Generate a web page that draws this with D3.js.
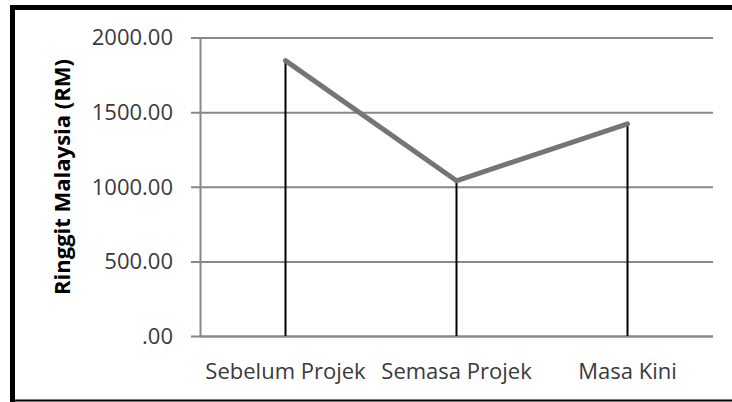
<!DOCTYPE html>
<html>
<head>
<meta charset="utf-8">
<script src="https://cdn.jsdelivr.net/npm/d3@7"></script>
<style>
  body { margin: 0; background: #fff; }
  svg { display: block; }
</style>
</head>
<body>
<svg></svg>
<script>
var width = 732;
var height = 402;

// data
const categories = ["Sebelum Projek", "Semasa Projek", "Masa Kini"];
const values = [1845, 1040, 1422];
const yTicks = [0, 500, 1000, 1500, 2000];
const yTitle = "Ringgit Malaysia (RM)";

var svg = d3.select("svg").attr("width", width).attr("height", height);

// plot box
const plotL = 200, plotR = 713, plotT = 37.5, plotB = 336;

// outer frame (thick top/left, thin bottom)
svg.append("line").attr("x1", 10).attr("x2", width).attr("y1", 7.5).attr("y2", 7.5)
    .attr("stroke", "#000").attr("stroke-width", 5);
svg.append("line").attr("x1", 12.5).attr("x2", 12.5).attr("y1", 5).attr("y2", height)
    .attr("stroke", "#000").attr("stroke-width", 5);
svg.append("line").attr("x1", 10).attr("x2", width).attr("y1", 400.5).attr("y2", 400.5)
    .attr("stroke", "#000").attr("stroke-width", 2);

let xScale = d3.scaleBand().domain(categories).range([plotL, plotR]);
let yScale = d3.scaleLinear().domain([0, 2000]).range([plotB, plotT]);

// gridlines + y axis
let y_Axis = d3.axisLeft(yScale).tickValues(yTicks)
    .tickSize(-(plotR - plotL))
    .tickFormat((d) => d === 0 ? ".00" : d3.format(".2f")(d));

let gy = svg.append("g").attr("transform", "translate(" + plotL + ",0)").call(y_Axis);
gy.select(".domain").attr("stroke", "#888").attr("stroke-width", 2);
gy.selectAll(".tick line").attr("stroke", "#888").attr("stroke-width", 2)
    .attr("x1", -9);
gy.selectAll(".tick text")
    .style("font-family", "'Open Sans', sans-serif")
    .style("font-size", "22px")
    .attr("fill", "#3a3a3a")
    .attr("x", -27)
    .attr("dy", "0.34em");

// category labels
let x_Axis = d3.axisBottom(xScale).tickSize(0).tickPadding(0);
let gx = svg.append("g").attr("transform", "translate(0," + plotB + ")").call(x_Axis);
gx.select(".domain").remove();
gx.selectAll(".tick text")
    .style("font-family", "'Open Sans', sans-serif")
    .style("font-size", "22px")
    .attr("fill", "#3a3a3a")
    .attr("y", 43)
    .attr("dy", 0);

// drop lines
svg.selectAll(".drop").data(values).enter()
    .append("line")
    .attr("class", "drop")
    .attr("x1", (d, i) => xScale(categories[i]) + xScale.bandwidth() / 2)
    .attr("x2", (d, i) => xScale(categories[i]) + xScale.bandwidth() / 2)
    .attr("y1", (d) => yScale(d))
    .attr("y2", plotB)
    .attr("stroke", "#000")
    .attr("stroke-width", 2);

// the line
let line = d3.line()
    .x((d, i) => xScale(categories[i]) + xScale.bandwidth() / 2)
    .y((d) => yScale(d));

svg.append("path").datum(values)
    .attr("d", line)
    .attr("fill", "none")
    .attr("stroke", "#757575")
    .attr("stroke-width", 5)
    .attr("stroke-linecap", "round")
    .attr("stroke-linejoin", "round");

// y axis title
svg.append("text")
    .style("font-family", "'Open Sans', sans-serif")
    .style("font-size", "22px")
    .style("font-weight", "bold")
    .attr("text-anchor", "middle")
    .attr("transform", "translate(70,177) rotate(-90)")
    .text(yTitle);
</script>
</body>
</html>
